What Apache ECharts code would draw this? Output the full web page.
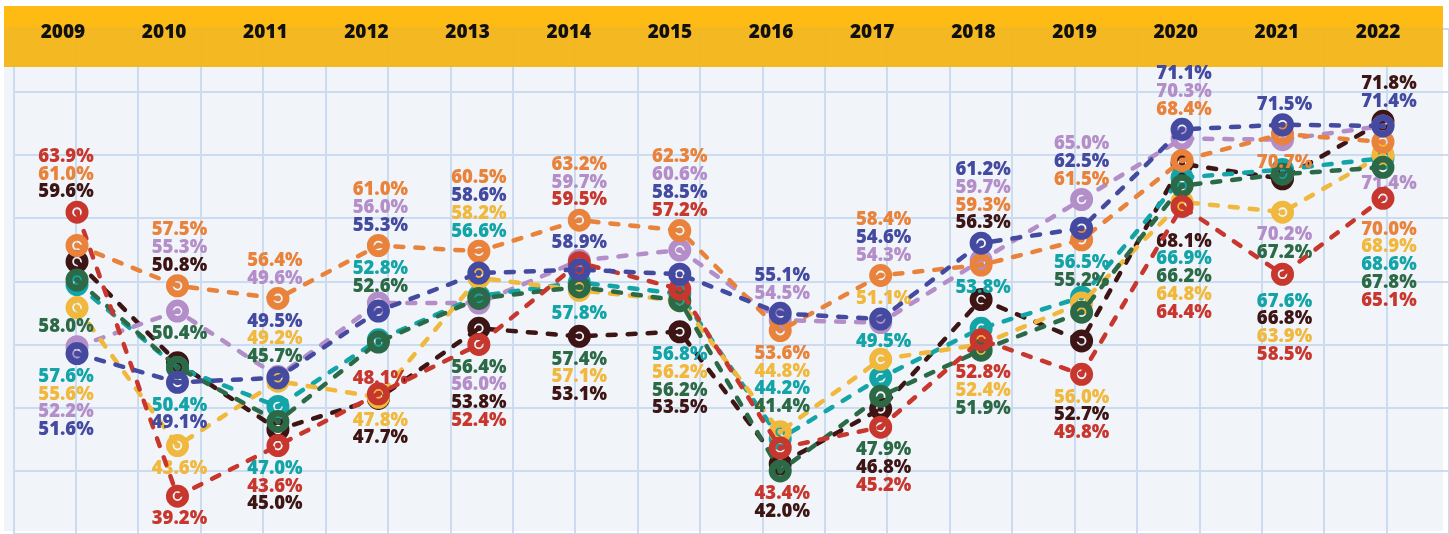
<!DOCTYPE html>
<html>
<head>
<meta charset="utf-8">
<script src="https://cdn.jsdelivr.net/npm/echarts@6/dist/echarts.min.js"></script>
<style>
html, body { margin: 0; padding: 0; background: #fff; }
#main { width: 1449px; height: 534px; }
</style>
</head>
<body>
<div id="main"></div>
<script>
var years = ['2009', '2010', '2011', '2012', '2013', '2014', '2015', '2016', '2017', '2018', '2019', '2020', '2021', '2022'];
var red    = [63.9, 39.2, 43.6, 48.1, 52.4, 59.5, 57.2, 43.4, 45.2, 52.8, 49.8, 64.4, 58.5, 65.1];
var orange = [61.0, 57.5, 56.4, 61.0, 60.5, 63.2, 62.3, 53.6, 58.4, 59.3, 61.5, 68.4, 70.7, 70.0];
var black  = [59.6, 50.8, 45.0, 47.7, 53.8, 53.1, 53.5, 42.0, 46.8, 56.3, 52.7, 68.1, 66.8, 71.8];
var green  = [58.0, 50.4, 45.7, 52.6, 56.4, 57.4, 56.2, 41.4, 47.9, 51.9, 55.2, 66.2, 67.2, 67.8];
var teal   = [57.6, 50.4, 47.0, 52.8, 56.6, 57.8, 56.8, 44.2, 49.5, 53.8, 56.5, 66.9, 67.6, 68.6];
var yellow = [55.6, 43.6, 49.2, 47.8, 58.2, 57.1, 56.2, 44.8, 51.1, 52.4, 56.0, 64.8, 63.9, 68.9];
var lilac  = [52.2, 55.3, 49.6, 56.0, 56.0, 59.7, 60.6, 54.5, 54.3, 59.7, 65.0, 70.3, 70.2, 71.4];
var blue   = [51.6, 49.1, 49.5, 55.3, 58.6, 58.9, 58.5, 55.1, 54.6, 61.2, 62.5, 71.1, 71.5, 71.4];

// drawing order: first one ends up underneath
var seriesList = [
  { key: 'K', data: black,  color: '#3d1514' },
  { key: 'L', data: lilac,  color: '#b38ec8' },
  { key: 'T', data: teal,   color: '#12a4a7' },
  { key: 'Y', data: yellow, color: '#f0b83c' },
  { key: 'G', data: green,  color: '#2c6a47' },
  { key: 'R', data: red,    color: '#c8372e' },
  { key: 'O', data: orange, color: '#e9823a' },
  { key: 'B', data: blue,   color: '#434a9f' }
];
var byKey = {};
seriesList.forEach(function (s, i) { s.idx = i; byKey[s.key] = s; });

// label stacks per year: [side, anchor series, labels in reading order, extra gap]
var labelLayout = [
  [['t', 'R', ['R', 'O', 'K']], ['t', 'L', ['G']], ['b', 'B', ['T', 'Y', 'L', 'B']]],
  [['t', 'O', ['O', 'L', 'K']], ['b', 'L', ['G']], ['b', 'B', ['T', 'B']], ['b', 'Y', ['Y']], ['b', 'R', ['R']]],
  [['t', 'O', ['O', 'L']], ['b', 'O', ['B', 'Y', 'G']], ['b', 'R', ['T', 'R', 'K']]],
  [['t', 'O', ['O', 'L', 'B']], ['b', 'O', ['T', 'G']], ['t', 'R', ['R'], -5], ['b', 'Y', ['Y', 'K']]],
  [['t', 'O', ['O', 'B', 'Y', 'T']], ['b', 'R', ['G', 'L', 'K', 'R']]],
  [['t', 'O', ['O', 'L', 'R']], ['b', 'O', ['B']], ['b', 'Y', ['T']], ['b', 'K', ['G', 'Y', 'K']]],
  [['t', 'O', ['O', 'L', 'B', 'R']], ['b', 'K', ['T', 'Y', 'G', 'K']]],
  [['t', 'B', ['B', 'L']], ['b', 'O', ['O', 'Y', 'T', 'G']], ['b', 'G', ['R', 'K']]],
  [['t', 'O', ['O', 'B', 'L']], ['b', 'O', ['Y']], ['b', 'B', ['T']], ['b', 'R', ['G', 'K', 'R']]],
  [['t', 'B', ['B', 'L', 'O', 'K']], ['b', 'O', ['T']], ['b', 'G', ['R', 'Y', 'G']]],
  [['t', 'L', ['L', 'B', 'O']], ['b', 'O', ['T', 'G']], ['b', 'R', ['Y', 'K', 'R']]],
  [['t', 'B', ['B', 'L', 'O']], ['b', 'R', ['K', 'T', 'G', 'Y', 'R'], 12]],
  [['t', 'B', ['B']], ['b', 'L', ['O']], ['b', 'Y', ['L', 'G']], ['b', 'R', ['T', 'K', 'Y', 'R'], 4]],
  [['t', 'K', ['K', 'B']], ['b', 'G', ['L'], -7], ['b', 'R', ['O', 'Y', 'T', 'G', 'R'], 8]]
];
var labelShift = [-11, 2, -3, 2, 0, 0, 0, 2, 3, 2, 0, 2, 2, 6];

var FONT = '"Open Sans"';
// filled disc with a thin see-through ring in the middle
var markerPath = 'path://M0,10A10,10 0 1,1 20,10A10,10 0 1,1 0,10Z' +
  'M14.2,10A4.2,4.2 0 1,0 5.8,10A4.2,4.2 0 1,0 14.2,10Z' +
  'M12.6,10A2.6,2.6 0 1,1 7.4,10A2.6,2.6 0 1,1 12.6,10Z';

var chart = echarts.init(document.getElementById('main'));

function buildSeries(offsets) {
  return seriesList.map(function (s, si) {
    return {
      type: 'line',
      xAxisIndex: 0,
      yAxisIndex: 0,
      z: 2 + si * 0.1,
      data: s.data.map(function (v, i) {
        var item = { value: v };
        if (offsets) item.label = { offset: offsets[si][i] };
        return item;
      }),
      symbol: markerPath,
      symbolSize: 23,
      showAllSymbol: true,
      animation: false,
      lineStyle: { color: s.color, width: 4.5, type: [8, 12], cap: 'round' },
      itemStyle: { color: s.color },
      label: {
        show: !!offsets,
        position: 'inside',
        color: s.color,
        fontFamily: FONT,
        fontSize: 18.5,
        fontWeight: 800,
        formatter: function (p) { return p.value.toFixed(1) + '%'; }
      },
      emphasis: { disabled: true }
    };
  });
}

var option = {
  backgroundColor: '#ffffff',
  animation: false,
  graphic: [
    { type: 'rect', z: -20, shape: { x: 4, y: 6, width: 1439, height: 525 }, style: { fill: '#f1f4f8' } },
    { type: 'rect', z: -1, shape: { x: 4, y: 6, width: 1439, height: 21 }, style: { fill: '#fdbb14' } },
    { type: 'rect', z: -1, shape: { x: 4, y: 27, width: 1439, height: 40 }, style: { fill: '#f3b416', opacity: 0.95 } }
  ],
  grid: [
    { left: 26.8, right: 15.8, top: 50, height: 483 },
    { left: 12.4, right: 20.4, top: 6, height: 27 },
    { left: 13.4, top: 28.7, width: 63.6 * 23, height: 63.3 * 8 }
  ],
  xAxis: [
    { gridIndex: 0, type: 'category', data: years, boundaryGap: true, show: false },
    {
      gridIndex: 1, type: 'category', data: years, boundaryGap: true, z: 5,
      axisLine: { show: false }, axisTick: { show: false }, splitLine: { show: false },
      axisLabel: { margin: 0, verticalAlign: 'middle', color: '#111', fontFamily: FONT, fontSize: 19, fontWeight: 800 }
    },
    {
      gridIndex: 2, type: 'value', min: 0, max: 23, interval: 1, z: -5,
      axisLine: { show: false }, axisTick: { show: false }, axisLabel: { show: false },
      splitLine: { show: true, lineStyle: { color: '#cbdcf0', width: 2 } }
    }
  ],
  yAxis: [
    { gridIndex: 0, type: 'value', min: 36, max: 78, show: false },
    { gridIndex: 1, type: 'value', show: false },
    {
      gridIndex: 2, type: 'value', min: 0, max: 8, interval: 1, z: -5,
      axisLine: { show: false }, axisTick: { show: false }, axisLabel: { show: false },
      splitLine: { show: true, lineStyle: { color: '#cbdcf0', width: 2 } }
    }
  ],
  series: buildSeries(null)
};
chart.setOption(option);

// place the label stacks using the chart's own y scale
var lh = 17.8;
var offsets = seriesList.map(function () { return years.map(function () { return [0, 0]; }); });
function px(i, v) {
  return chart.convertToPixel({ xAxisIndex: 0, yAxisIndex: 0 }, [i, v])[1];
}
labelLayout.forEach(function (groups, i) {
  groups.forEach(function (g) {
    var side = g[0], list = g[2], extra = g[3] || 0;
    var ay = px(i, byKey[g[1]].data[i]);
    list.forEach(function (k, j) {
      var s = byKey[k];
      var py = px(i, s.data[i]);
      var ty = side === 't'
        ? ay - 20 - extra - (list.length - 1 - j) * lh
        : ay + 23 + extra + j * lh;
      offsets[s.idx][i] = [labelShift[i], ty - py];
    });
  });
});
chart.setOption({ series: buildSeries(offsets) });
</script>
</body>
</html>
